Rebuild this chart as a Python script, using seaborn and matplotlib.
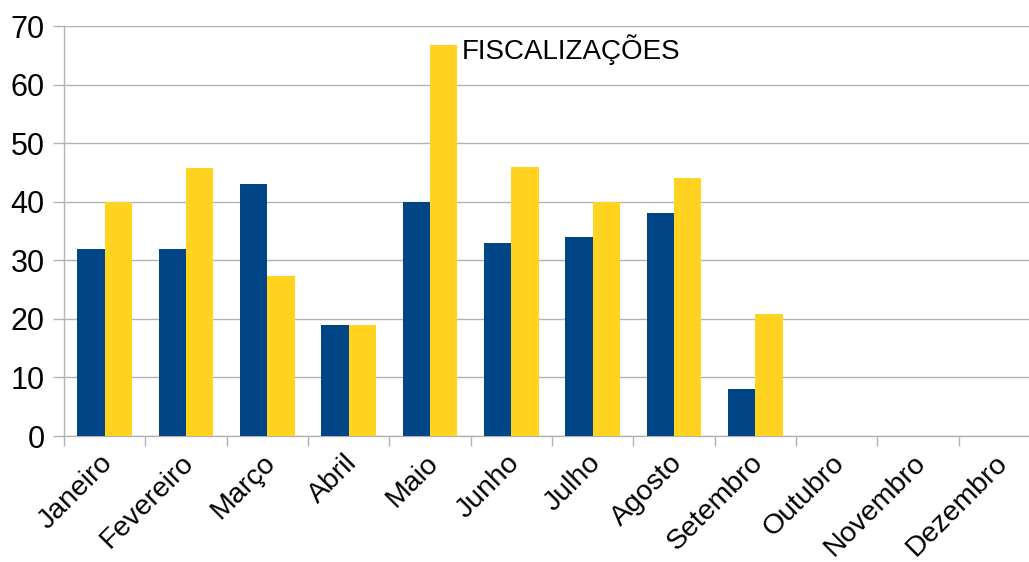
import numpy as np
import pandas as pd
import seaborn as sns
import matplotlib.pyplot as plt
import matplotlib.transforms as mtransforms

# ------------------ DATA ------------------
MONTHS = ['Janeiro', 'Fevereiro', 'Março', 'Abril', 'Maio', 'Junho',
          'Julho', 'Agosto', 'Setembro', 'Outubro', 'Novembro', 'Dezembro']
SERIES_A = [32, 32, 43, 19, 40, 33, 34, 38, 8, 0, 0, 0]
SERIES_B = [40, 45.7, 27.3, 19, 66.8, 46, 40, 44, 20.8, 0, 0, 0]
SERIES_NAMES = ['A', 'B']
COLORS = ['#004586', '#ffd320']
TITLE = 'FISCALIZAÇÕES'
# ------------------------------------------

GRID = '#b3b3b3'

sns.set_style('white')
plt.rcParams['font.family'] = ['Liberation Sans', 'DejaVu Sans']

df = pd.DataFrame({
    'Mes': MONTHS * 2,
    'Valor': SERIES_A + SERIES_B,
    'Serie': [SERIES_NAMES[0]] * len(MONTHS) + [SERIES_NAMES[1]] * len(MONTHS),
})

fig = plt.figure(figsize=(10.29, 5.62), dpi=100)
ax = fig.add_axes([64 / 1029, 126 / 562, 976 / 1029, 410 / 562])

sns.barplot(data=df, x='Mes', y='Valor', hue='Serie', order=MONTHS,
            hue_order=SERIES_NAMES, palette=COLORS, width=0.67,
            saturation=1, legend=False, ax=ax, zorder=3, linewidth=0)

ax.set_xlim(-0.5, len(MONTHS) - 0.5)
ax.set_ylim(0, 70)
ax.set_yticks(range(0, 71, 10))
ax.set_xlabel('')
ax.set_ylabel('')

ax.yaxis.grid(True, color=GRID, linewidth=1, zorder=0)
ax.set_axisbelow(True)
for side in ['top', 'right']:
    ax.spines[side].set_visible(False)
for side in ['left', 'bottom']:
    ax.spines[side].set_color(GRID)
    ax.spines[side].set_linewidth(1)

ax.tick_params(axis='y', length=8, width=1, color=GRID, labelsize=22, pad=6,
               left=True, labelcolor='black')
ax.tick_params(axis='x', which='major', length=0, labelsize=20.5, pad=10,
               labelcolor='black')
ax.set_xticks(np.arange(-0.5, len(MONTHS), 1), minor=True)
ax.tick_params(axis='x', which='minor', length=7.5, width=1, color=GRID,
               bottom=True)
shift = mtransforms.ScaledTranslation(-5 / 100, 0, fig.dpi_scale_trans)
for lbl in ax.get_xticklabels():
    lbl.set_rotation(45)
    lbl.set_ha('right')
    lbl.set_rotation_mode('anchor')
    lbl.set_transform(lbl.get_transform() + shift)

ax.text((462 - 64) / 976, (436 - 50) / 410, TITLE, transform=ax.transAxes,
        fontsize=20, ha='left', va='center', color='black')

fig.savefig('out.png', dpi=100)
